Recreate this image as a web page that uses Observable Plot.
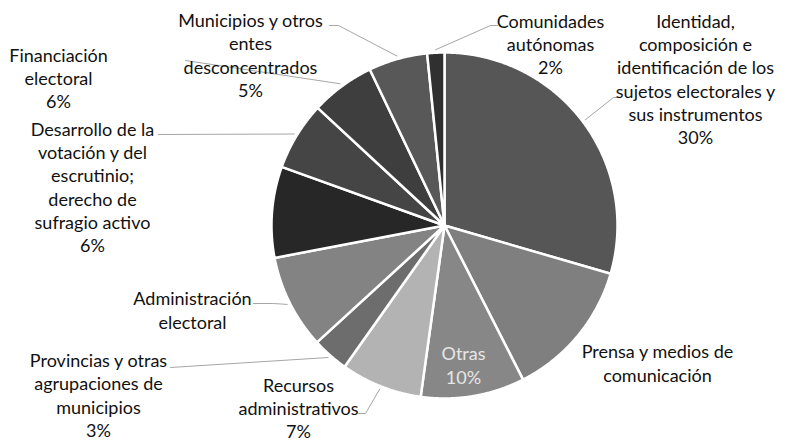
<!DOCTYPE html>
<html><head><meta charset="utf-8">
<script src="https://cdn.jsdelivr.net/npm/d3@7"></script>
<script src="https://cdn.jsdelivr.net/npm/@observablehq/plot@0.6"></script>
<style>body{margin:0;background:#fff;} svg{display:block;}</style>
</head><body><div id="chart"></div>
<script>
// ---- data ----
const categories = [
  "Identidad,\ncomposición e\nidentificación de los\nsujetos electorales y\nsus instrumentos",
  "Prensa y medios de\ncomunicación",
  "Otras",
  "Recursos\nadministrativos",
  "Provincias y otras\nagrupaciones de\nmunicipios",
  "Administración\nelectoral",
  "(sin etiqueta)",
  "Desarrollo de la\nvotación y del\nescrutinio;\nderecho de\nsufragio activo",
  "Financiación\nelectoral",
  "Municipios y otros\nentes\ndesconcentrados",
  "Comunidades\nautónomas"
];
const values = [29.5, 13.0, 9.7, 7.6, 3.4, 8.8, 8.5, 6.4, 6.0, 5.5, 1.6];
const pctLabels = ["30%", "", "10%", "7%", "3%", "", "", "6%", "6%", "5%", "2%"];
const showLabel = [true, true, true, true, true, true, false, true, true, true, true];
const greys = ["#565656", "#7f7f7f", "#878787", "#b3b3b3", "#6d6d6d", "#838383",
               "#272727", "#454545", "#3e3e3e", "#585858", "#303030"];

// ---- layout (pixels) ----
const W = 786, H = 441;
const cx = 444, cy = 225, R = 173;
const labelPos = [[695, 78], [657, 362], [463, 364], [298, 407], [98, 394], [192, 309],
                  null, [92, 186], [58, 77], [250, 54], [550, 43]];
const labelColor = ["#111", "#111", "#e6e6e6", "#111", "#111", "#111", "#111", "#111", "#111", "#111", "#111"];
const leaderTail = [
  [[613, 97], [620, 97]],
  null, null,
  [[365, 413], [358, 413]],
  [[170, 367]],
  [[273, 303], [253, 303]],
  null,
  [[158, 134]],
  [[185, 60]],
  [[338, 25], [329, 25]],
  [[490, 25], [497, 25]]
];

// ---- build ----
const arcs = d3.pie().sort(null).value(d => d)(values);
const slices = [];
arcs.forEach((a, i) => {
  const name = categories[i];
  slices.push({name, x: cx, y: cy});
  const n = Math.max(2, Math.ceil((a.endAngle - a.startAngle) / 0.005));
  for (let k = 0; k <= n; k++) {
    const t = a.startAngle + (a.endAngle - a.startAngle) * k / n;
    slices.push({name, x: cx + R * Math.sin(t), y: cy - R * Math.cos(t)});
  }
  slices.push({name, x: cx, y: cy});
});

const leaders = [];
arcs.forEach((a, i) => {
  if (!leaderTail[i]) return;
  const m = (a.startAngle + a.endAngle) / 2;
  const name = categories[i];
  leaders.push({name, x: cx + (R + 3) * Math.sin(m), y: cy - (R + 3) * Math.cos(m)});
  leaderTail[i].forEach(([x, y]) => leaders.push({name, x, y}));
});

const labels = [];
categories.forEach((c, i) => {
  if (!showLabel[i]) return;
  labels.push({
    text: c + (pctLabels[i] ? "\n" + pctLabels[i] : ""),
    x: labelPos[i][0], y: labelPos[i][1], color: labelColor[i]
  });
});

const chart = Plot.plot({
  width: W, height: H,
  margin: 0,
  style: {background: "#fff"},
  x: {domain: [0, W], range: [0, W], axis: null},
  y: {domain: [0, H], range: [0, H], axis: null},
  color: {domain: categories, range: greys},
  marks: [
    Plot.line(slices, {x: "x", y: "y", z: "name", fill: "name", stroke: "white", strokeWidth: 2.5, curve: "linear"}),
    Plot.line(leaders, {x: "x", y: "y", z: "name", stroke: "#a6a6a6", strokeWidth: 1, curve: "linear"}),
    Plot.text(labels, {x: "x", y: "y", text: "text", fill: d => d.color, fontSize: 18, lineHeight: 1.3,
      fontFamily: "Lato", lineAnchor: "middle", textAnchor: "middle"})
  ]
});
document.getElementById("chart").appendChild(chart);
</script>
</body></html>
